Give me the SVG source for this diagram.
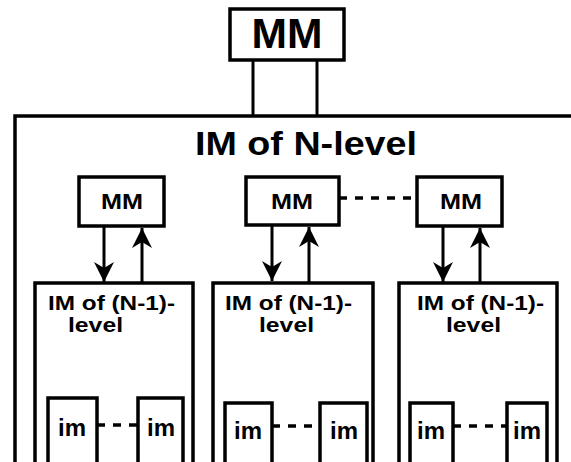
<svg xmlns="http://www.w3.org/2000/svg" width="571" height="462" viewBox="0 0 571 462">
<style>
.box{fill:none;stroke:#000;stroke-width:3.5;stroke-linejoin:miter}
.ln{fill:none;stroke:#000;stroke-width:3}
.dash{fill:none;stroke:#000;stroke-width:3.5;stroke-dasharray:8,8}
text{font-family:"Liberation Sans",Arial,sans-serif;font-weight:bold;fill:#000}
.mm{font-size:22px;text-anchor:middle}
.im{font-size:24px;text-anchor:middle}
.lv{font-size:20px}
</style>
<defs>
<marker id="ah" markerUnits="userSpaceOnUse" markerWidth="22" markerHeight="22" refX="20" refY="11" orient="auto" viewBox="0 0 22 22">
<path d="M0,1 L20,11 L0,21 L6,11 z" fill="#000"/>
</marker>
</defs>
<rect width="571" height="462" fill="#fff"/>
<g id="top-mm">
<rect class="box" x="230" y="9" width="114" height="51"/>
<text x="287" y="48" font-size="42" text-anchor="middle" textLength="71" lengthAdjust="spacingAndGlyphs">MM</text>
</g>
<g id="im-n-level">
<path class="box" d="M15,462 V116 H575"/>
<text x="306" y="155" font-size="34" text-anchor="middle" textLength="222" lengthAdjust="spacingAndGlyphs">IM of N-level</text>
</g>
<g id="mm1">
<rect class="box" x="79" y="177" width="85" height="49"/>
<text class="mm" x="122" y="209" textLength="42" lengthAdjust="spacingAndGlyphs">MM</text>
</g>
<g id="mm2">
<rect class="box" x="246" y="177" width="93" height="48"/>
<text class="mm" x="292" y="209" textLength="42" lengthAdjust="spacingAndGlyphs">MM</text>
</g>
<g id="mm3">
<rect class="box" x="417" y="177" width="85" height="49"/>
<text class="mm" x="461" y="209" textLength="42" lengthAdjust="spacingAndGlyphs">MM</text>
</g>
<g id="im1">
<path class="box" d="M35,462 V283 H193 V462"/>
<text class="lv" x="48" y="310" textLength="127" lengthAdjust="spacingAndGlyphs">IM of (N-1)-</text>
<text class="lv" x="68" y="332" textLength="55" lengthAdjust="spacingAndGlyphs">level</text>
</g>
<g id="im2">
<path class="box" d="M213,462 V283 H373 V462"/>
<text class="lv" x="225" y="310" textLength="127" lengthAdjust="spacingAndGlyphs">IM of (N-1)-</text>
<text class="lv" x="259" y="332" textLength="55" lengthAdjust="spacingAndGlyphs">level</text>
</g>
<g id="im3">
<path class="box" d="M399,462 V283 H557 V462"/>
<text class="lv" x="417" y="310" textLength="127" lengthAdjust="spacingAndGlyphs">IM of (N-1)-</text>
<text class="lv" x="446" y="332" textLength="55" lengthAdjust="spacingAndGlyphs">level</text>
</g>
<g id="im1a"><path class="box" d="M48,462 V398 H97 V462"/><text class="im" x="72" y="436">im</text></g>
<g id="im1b"><path class="box" d="M138,462 V398 H183 V462"/><text class="im" x="161" y="436">im</text></g>
<g id="im2a"><path class="box" d="M225,462 V403 H272 V462"/><text class="im" x="248" y="439">im</text></g>
<g id="im2b"><path class="box" d="M320,462 V403 H367 V462"/><text class="im" x="344" y="439">im</text></g>
<g id="im3a"><path class="box" d="M410,462 V403 H453 V462"/><text class="im" x="431" y="439">im</text></g>
<g id="im3b"><path class="box" d="M507,462 V403 H547 V462"/><text class="im" x="527" y="439">im</text></g>
<g id="connectors">
<path class="ln" d="M253,60 V116 M317,60 V116"/>
<path class="dash" d="M339,198 H417"/>
<path class="ln" d="M104,226 V282" marker-end="url(#ah)"/>
<path class="ln" d="M142,283 V228" marker-end="url(#ah)"/>
<path class="ln" d="M272,225 V281" marker-end="url(#ah)"/>
<path class="ln" d="M309,283 V227" marker-end="url(#ah)"/>
<path class="ln" d="M443,226 V282" marker-end="url(#ah)"/>
<path class="ln" d="M480,283 V228" marker-end="url(#ah)"/>
<path class="dash" d="M97,425 H138"/>
<path class="dash" d="M272,426 H320"/>
<path class="dash" d="M453,426 H507"/>
</g>
</svg>
